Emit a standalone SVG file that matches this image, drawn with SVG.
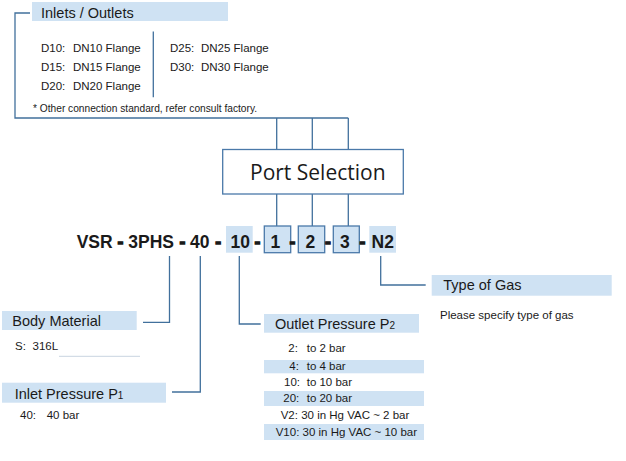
<svg xmlns="http://www.w3.org/2000/svg" width="626" height="461" viewBox="0 0 626 461">
<style>
text{font-family:"Liberation Sans",Arial,sans-serif;fill:#1a1a1a}
.hd{fill:#cfe2f3}
.ht{font-size:14.5px}
.t{font-size:11.5px}
.code{font-size:17.5px;font-weight:bold}
.dash{font-size:17.5px;font-weight:bold;text-anchor:middle;stroke:#1a1a1a;stroke-width:1.3}
.ln{fill:none;stroke:#41709c;stroke-width:1.3}
.box{fill:#cfe2f3;stroke:#4a79a9;stroke-width:1.3}
</style>
<rect width="626" height="461" fill="#fff"/>
<g id="connectors" class="ln">
<polyline points="30,13 15,13 15,118 348.3,118"/>
<line x1="276.7" y1="118" x2="276.7" y2="149.5"/>
<line x1="312.3" y1="118" x2="312.3" y2="149.5"/>
<line x1="348.3" y1="118" x2="348.3" y2="149.5"/>
<line x1="276.7" y1="194" x2="276.7" y2="226"/>
<line x1="312.3" y1="194" x2="312.3" y2="226"/>
<line x1="348.3" y1="194" x2="348.3" y2="226"/>
<polyline points="169.5,256 169.5,322.3 143,322.3"/>
<polyline points="200.3,256 200.3,392 172,392"/>
<polyline points="239.3,256 239.3,324 260.7,324"/>
<polyline points="380.7,256 380.7,285 425.7,285"/>
</g>
<g id="inlets-outlets">
<rect class="hd" x="32" y="2" width="196" height="19"/>
<text class="ht" x="41" y="17.5">Inlets / Outlets</text>
<line x1="153.3" y1="31.5" x2="153.3" y2="97.3" stroke="#41709c" stroke-width="1.3"/>
<text class="t" x="41" y="51.5">D10:</text><text class="t" x="73" y="51.5">DN10 Flange</text>
<text class="t" x="41" y="70.5">D15:</text><text class="t" x="73" y="70.5">DN15 Flange</text>
<text class="t" x="41" y="89.5">D20:</text><text class="t" x="73" y="89.5">DN20 Flange</text>
<text class="t" x="170" y="51.5">D25:</text><text class="t" x="201" y="51.5">DN25 Flange</text>
<text class="t" x="170" y="70.5">D30:</text><text class="t" x="201" y="70.5">DN30 Flange</text>
<text x="33" y="111.5" style="font-size:10.2px">* Other connection standard, refer consult factory.</text>
</g>
<g id="port-selection">
<rect x="222.7" y="149.5" width="180.6" height="44.5" fill="#fff" stroke="#4a79a9" stroke-width="1.3"/>
<text x="250" y="179.5" style="font-family:'Open Sans','Liberation Sans',sans-serif;font-size:21px">Port Selection</text>
</g>
<g id="code">
<rect class="hd" x="226" y="226" width="26.7" height="26.7"/>
<rect class="box" x="264.3" y="226" width="26.4" height="26.7"/>
<rect class="box" x="298.3" y="226" width="26.4" height="26.7"/>
<rect class="box" x="333.3" y="226" width="26" height="26.7"/>
<rect class="hd" x="369.3" y="226" width="26.7" height="26.7"/>
<text class="code" x="76.7" y="247.5">VSR</text>
<text class="dash" x="120.5" y="247.5">-</text>
<text class="code" x="128.3" y="247.5">3PHS</text>
<text class="dash" x="182.5" y="247.5">-</text>
<text class="code" x="190" y="247.5">40</text>
<text class="dash" x="218.2" y="247.5">-</text>
<text class="code" x="230.5" y="247.5">10</text>
<text class="dash" x="257.5" y="247.5">-</text>
<text class="code" x="270.5" y="247.5">1</text>
<text class="dash" x="292.5" y="247.5">-</text>
<text class="code" x="305.5" y="247.5">2</text>
<text class="dash" x="327.8" y="247.5">-</text>
<text class="code" x="340" y="247.5">3</text>
<text class="dash" x="362.5" y="247.5">-</text>
<text class="code" x="371.5" y="247.5">N2</text>
</g>
<g id="body-material">
<rect class="hd" x="2" y="311" width="134.7" height="19"/>
<text class="ht" x="12.3" y="326">Body Material</text>
<text class="t" x="15" y="349.5">S:</text><text class="t" x="32.5" y="349.5">316L</text>
<line x1="59" y1="356.3" x2="140" y2="356.3" stroke="#c8d4e0" stroke-width="1"/>
</g>
<g id="inlet-pressure">
<rect class="hd" x="2" y="382.7" width="164" height="20"/>
<text class="ht" x="14.7" y="399.3">Inlet Pressure P<tspan style="font-size:10px">1</tspan></text>
<text class="t" x="20" y="419">40:</text><text class="t" x="46.7" y="419">40 bar</text>
</g>
<g id="outlet-pressure">
<rect class="hd" x="264" y="314" width="155" height="18.7"/>
<text class="ht" x="275" y="329.3">Outlet Pressure P<tspan style="font-size:10px">2</tspan></text>
<rect class="hd" x="264" y="360" width="160" height="13.3"/>
<rect class="hd" x="264" y="391" width="160" height="15"/>
<rect class="hd" x="264" y="424" width="160" height="16"/>
<text class="t" x="288.3" y="352">2:</text><text class="t" x="306.7" y="352">to 2 bar</text>
<text class="t" x="289.3" y="370">4:</text><text class="t" x="306.7" y="370">to 4 bar</text>
<text class="t" x="284" y="385.5">10:</text><text class="t" x="306.7" y="385.5">to 10 bar</text>
<text class="t" x="283.3" y="402.3">20:</text><text class="t" x="306.7" y="402.3">to 20 bar</text>
<text class="t" x="280.7" y="418.5">V2: 30 in Hg VAC ~ 2 bar</text>
<text class="t" x="275.7" y="436">V10: 30 in Hg VAC ~ 10 bar</text>
</g>
<g id="type-of-gas">
<rect class="hd" x="431.7" y="275" width="180" height="20.7"/>
<text class="ht" x="443.3" y="289.5">Type of Gas</text>
<text class="t" x="440" y="319">Please specify type of gas</text>
</g>
</svg>
